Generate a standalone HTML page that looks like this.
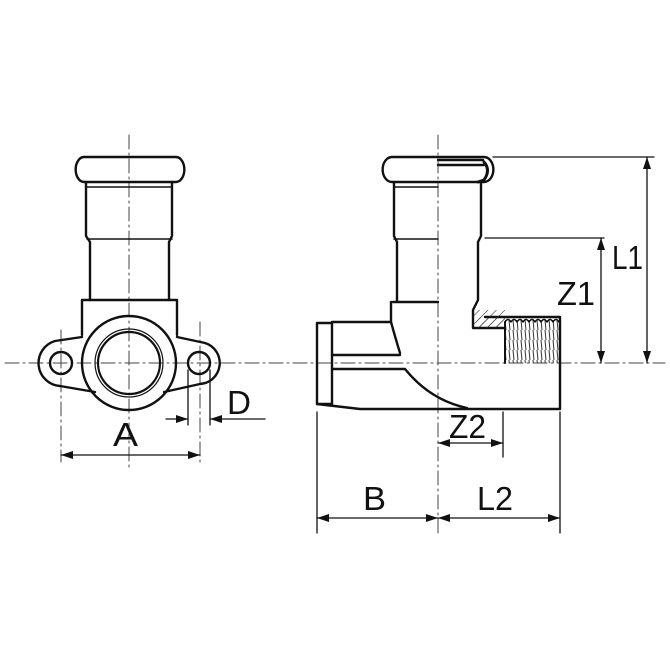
<!DOCTYPE html>
<html><head><meta charset="utf-8"><style>
html,body{margin:0;padding:0;background:#fff;}
svg{display:block;}
text{font-family:"Liberation Sans",sans-serif;fill:#111;}
</style></head><body>
<svg width="670" height="670" viewBox="0 0 670 670" xmlns="http://www.w3.org/2000/svg">
<defs>
<marker id="ar" viewBox="0 0 12 8" refX="12" refY="4" markerWidth="12" markerHeight="8" orient="auto-start-reverse" markerUnits="userSpaceOnUse">
<path d="M0,0 L12,4 L0,8 Z" fill="#111"/></marker>
<pattern id="hat" width="6" height="6" patternUnits="userSpaceOnUse" patternTransform="rotate(45)">
<line x1="0" y1="0" x2="0" y2="6" stroke="#222" stroke-width="1"/></pattern>
<pattern id="thr" width="4" height="10" patternUnits="userSpaceOnUse">
<line x1="1" y1="0" x2="2" y2="10" stroke="#333" stroke-width="1"/></pattern>
</defs>
<g fill="none" stroke="#111" stroke-linecap="round" stroke-linejoin="round">
<!-- center lines -->
<g stroke="#444" stroke-width="1" stroke-dasharray="14,4,2,4">
<line x1="5" y1="363" x2="665" y2="363"/>
<line x1="129" y1="135" x2="129" y2="470"/>
<line x1="438" y1="135" x2="438" y2="535"/>
<line x1="61" y1="330" x2="61" y2="462"/>
<line x1="200" y1="322" x2="200" y2="462"/>
</g>
<!-- LEFT VIEW -->
<g stroke-width="2.4">
<path d="M84,157 H176 A8,12 0 0 1 176,182 H84 A8,12 0 0 1 84,157 Z"/>
<path d="M86,182 V236 L90,242 V300 M172,182 V236 L169,242 V300"/>
<path d="M82,335 V300 H177 V335"/>
<circle cx="129" cy="363" r="47"/>
<path d="M82,337 L55,341 A23,23 0 0 0 60,386 L95,392"/>
<path d="M177,337 L205,343 A21,21 0 0 1 200,384 L164,392"/>
<circle cx="61" cy="363" r="11"/>
<circle cx="199" cy="363" r="11"/>
</g>
<circle cx="129" cy="363" r="34" stroke-width="1.2"/>
<circle cx="129" cy="363" r="31" stroke-width="2.2"/>
<g stroke-width="1.5">
<line x1="87" y1="187" x2="172" y2="187"/>
<line x1="87" y1="239" x2="172" y2="239"/>
</g>
<!-- D and A dims -->
<g stroke-width="1.3">
<line x1="188" y1="370" x2="188" y2="425"/>
<line x1="210" y1="370" x2="210" y2="425"/>
<line x1="166" y1="419" x2="188" y2="419" marker-end="url(#ar)"/>
<line x1="265" y1="419" x2="210" y2="419" marker-end="url(#ar)"/>
<line x1="61" y1="455" x2="200" y2="455" marker-start="url(#ar)" marker-end="url(#ar)"/>
</g>
<!-- RIGHT VIEW -->
<g stroke-width="2.4">
<path d="M392,157 H484 A9,12 0 0 1 484,182 H392 A9,12 0 0 1 392,157 Z"/>
<path d="M394,182 V236 L397,242 V302 M393,302 H438"/>
<path d="M391,302 V322 Q396,340 400,353"/>
<path d="M391,322 H332 M332,355 H400 M332,369 H405 Q430,400 467,408"/>
<rect x="317" y="323" width="15" height="81"/>
<path d="M317,404 L360,409 H560 V317 H485"/>
<path d="M481,182 V236 L478,242 V300 L473,310 V328 H505"/>
</g>
<rect x="473" y="310" width="32" height="18" fill="url(#hat)" stroke="none"/>
<rect x="476" y="317" width="29" height="11" fill="url(#hat)" stroke="none"/>
<rect x="505" y="320" width="55" height="43" fill="url(#thr)" stroke="none"/>
<path d="M505,322 q3,-5 6,0 q3,-5 6,0 q3,-5 6,0 q3,-5 6,0 q3,-5 6,0 q3,-5 6,0 q3,-5 6,0 q3,-5 6,0 q3,-5 6,0" stroke-width="1.5"/>
<path d="M505,322 V363" stroke-width="2"/>
<path d="M438,160 H483 M438,165 H484" stroke-width="2.4"/>
<path d="M484,162 Q491,170 484,180 L478,182" stroke-width="3"/>
<g stroke-width="1.5">
<line x1="394" y1="187" x2="438" y2="187"/>
<line x1="394" y1="239" x2="438" y2="239"/>
</g>
<!-- right dims -->
<g stroke-width="1.3">
<line x1="493" y1="157" x2="654" y2="157"/>
<line x1="485" y1="238" x2="604" y2="238"/>
<line x1="647" y1="157" x2="647" y2="363" marker-start="url(#ar)" marker-end="url(#ar)"/>
<line x1="601" y1="238" x2="601" y2="363" marker-start="url(#ar)" marker-end="url(#ar)"/>
<line x1="503" y1="412" x2="503" y2="457"/>
<line x1="438" y1="443" x2="503" y2="443" marker-start="url(#ar)" marker-end="url(#ar)"/>
<line x1="317" y1="412" x2="317" y2="533"/>
<line x1="560" y1="412" x2="560" y2="533"/>
<line x1="317" y1="518" x2="438" y2="518" marker-start="url(#ar)" marker-end="url(#ar)"/>
<line x1="438" y1="518" x2="560" y2="518" marker-start="url(#ar)" marker-end="url(#ar)"/>
</g>
</g>
<g font-size="33">
<text x="227" y="414" textLength="24" lengthAdjust="spacingAndGlyphs">D</text>
<text x="113" y="446" textLength="25" lengthAdjust="spacingAndGlyphs">A</text>
<text x="612" y="269" textLength="31" lengthAdjust="spacingAndGlyphs">L1</text>
<text x="557" y="305" textLength="38" lengthAdjust="spacingAndGlyphs">Z1</text>
<text x="449" y="438" textLength="37" lengthAdjust="spacingAndGlyphs">Z2</text>
<text x="363" y="510" textLength="23" lengthAdjust="spacingAndGlyphs">B</text>
<text x="477" y="510" textLength="36" lengthAdjust="spacingAndGlyphs">L2</text>
</g>
</svg>
</body></html>
